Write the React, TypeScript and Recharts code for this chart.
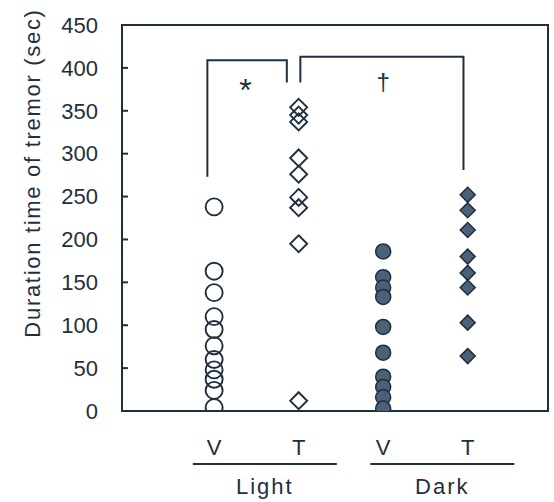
import React from 'react';
import { ComposedChart, Scatter, XAxis, YAxis, ReferenceArea } from 'recharts';

const INK = '#1f2f40';
const FILL_DARK = '#4b6178';
const FONT = '"Liberation Sans", Arial, sans-serif';

// x positions: 1 = Light V, 2 = Light T, 3 = Dark V, 4 = Dark T
const xDomain = [-0.09, 4.95];
const conditionTicks = [1, 2, 3, 4];
const conditionLabels = ['V', 'T', 'V', 'T'];
const groupTicks = [1.6, 3.7];
const groupLabels = ['Light', 'Dark'];
const yTicks = [0, 50, 100, 150, 200, 250, 300, 350, 400, 450];

// duration time of tremor (sec), one value per animal
const lightVehicle = [238, 163, 138, 110, 95, 76, 60, 48, 37, 24, 4];
const lightTreated = [354, 345, 337, 295, 276, 249, 237, 195, 12];
const darkVehicle = [186, 156, 144, 133, 98, 68, 40, 28, 16, 3];
const darkTreated = [252, 234, 211, 180, 161, 144, 103, 64];

// significance brackets and their marks
const bracketLight = [
  { x: 0.92, y: 273 },
  { x: 0.92, y: 409 },
  { x: 1.86, y: 409 },
  { x: 1.86, y: 383 },
];
const bracketDark = [
  { x: 2.02, y: 383 },
  { x: 2.02, y: 413 },
  { x: 3.95, y: 413 },
  { x: 3.95, y: 281 },
];
const sigMarks = [
  { x: 1.37, y: 382, label: '*' },
  { x: 3.0, y: 382, label: '†' },
];

const toPoints = (values: number[], x: number) => values.map(y => ({ x, y }));

const diamondPath = (cx: number, cy: number, s: number) =>
  `M${cx},${cy - s}L${cx + s},${cy}L${cx},${cy + s}L${cx - s},${cy}Z`;

const OpenCircle = (p: any) => (
  <circle cx={p.cx} cy={p.cy} r={8.5} fill="none" stroke={INK} strokeWidth={1.9} />
);
const OpenDiamond = (p: any) => (
  <path d={diamondPath(p.cx, p.cy, 8.5)} fill="none" stroke={INK} strokeWidth={1.9} />
);
const FilledCircle = (p: any) => (
  <circle cx={p.cx} cy={p.cy} r={7.5} fill={FILL_DARK} stroke={INK} strokeWidth={1.5} />
);
const FilledDiamond = (p: any) => (
  <path d={diamondPath(p.cx, p.cy, 7.5)} fill={FILL_DARK} stroke={INK} strokeWidth={1.5} />
);
const NoDot = () => <g />;

const SigMark = (p: any) => {
  const star = p.payload.label === '*';
  return (
    <text x={p.cx} y={p.cy} dy={star ? 18 : 7} textAnchor="middle"
      fill={INK} stroke="none" fontSize={star ? 32 : 24} fontFamily={FONT}>
      {p.payload.label}
    </text>
  );
};

const YLabel = (props: any) => {
  const vb = props.viewBox;
  const cx = vb.x + 32;
  const cy = vb.y + vb.height / 2 - 45;
  return (
    <text x={cx} y={cy} transform={`rotate(-90, ${cx}, ${cy})`} textAnchor="middle"
      dominantBaseline="central" fill={INK} fontSize={22} fontFamily={FONT}
      style={{ letterSpacing: 1.7 }}>
      Duration time of tremor (sec)
    </text>
  );
};

const GroupTick = (props: any) => {
  const { x, y, index } = props;
  return (
    <g>
      <line x1={x - 72} x2={x + 72} y1={y + 13} y2={y + 13} stroke={INK} strokeWidth={2} />
      <text x={x} y={y + 43} textAnchor="middle" fill={INK} fontSize={22} fontFamily={FONT}
        style={{ letterSpacing: 2 }}>
        {groupLabels[index]}
      </text>
    </g>
  );
};

export default function App() {
  return (
    <div style={{ position: 'absolute', left: 0, top: 0, background: '#fff' }}>
      <ComposedChart width={554} height={502} margin={{ top: 25, right: 6, bottom: 0, left: 0 }}>
        <XAxis
          type="number"
          dataKey="x"
          domain={xDomain}
          allowDataOverflow
          ticks={conditionTicks}
          tickFormatter={(v: number) => conditionLabels[v - 1]}
          axisLine={false}
          tickLine={false}
          tickSize={0}
          tickMargin={28}
          height={40}
          interval={0}
          tick={{ fill: INK, fontSize: 22, fontFamily: FONT }}
        />
        <XAxis
          xAxisId="group"
          type="number"
          dataKey="x"
          domain={xDomain}
          allowDataOverflow
          ticks={groupTicks}
          axisLine={false}
          tickLine={false}
          tickSize={0}
          tickMargin={0}
          height={51}
          interval={0}
          tick={<GroupTick />}
        />
        <YAxis
          type="number"
          dataKey="y"
          domain={[0, 450]}
          allowDataOverflow
          ticks={yTicks}
          width={122}
          axisLine={false}
          tickLine={{ stroke: INK, strokeWidth: 2 }}
          tickSize={-6}
          tickMargin={30}
          interval={0}
          tick={{ fill: INK, fontSize: 22, fontFamily: FONT }}
          label={{ content: <YLabel /> }}
        />
        <ReferenceArea x1={xDomain[0]} x2={xDomain[1]} y1={0} y2={450}
          fill="none" stroke={INK} strokeWidth={2} strokeOpacity={1} />
        <Scatter data={bracketLight} line={{ stroke: INK, strokeWidth: 2 }} shape={<NoDot />} isAnimationActive={false} />
        <Scatter data={bracketDark} line={{ stroke: INK, strokeWidth: 2 }} shape={<NoDot />} isAnimationActive={false} />
        <Scatter data={sigMarks} shape={<SigMark />} isAnimationActive={false} />
        <Scatter data={toPoints(lightVehicle, 1)} shape={<OpenCircle />} isAnimationActive={false} />
        <Scatter data={toPoints(lightTreated, 2)} shape={<OpenDiamond />} isAnimationActive={false} />
        <Scatter data={toPoints(darkVehicle, 3)} shape={<FilledCircle />} isAnimationActive={false} />
        <Scatter data={toPoints(darkTreated, 4)} shape={<FilledDiamond />} isAnimationActive={false} />
      </ComposedChart>
    </div>
  );
}
